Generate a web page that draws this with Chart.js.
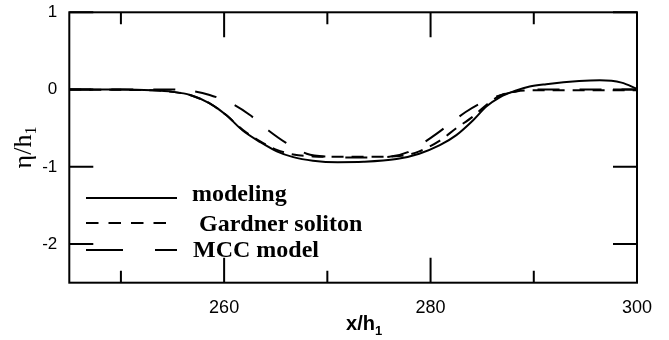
<!DOCTYPE html>
<html>
<head>
<meta charset="utf-8">
<script src="https://cdn.jsdelivr.net/npm/chart.js@4/dist/chart.umd.min.js"></script>
<style>
  html, body { margin: 0; padding: 0; background: #fff; }
  #wrap { width: 669px; height: 340px; }
</style>
</head>
<body>
<div id="wrap"><canvas id="c" width="669" height="340"></canvas></div>
<script>
// Interface displacement profiles, x/h1 vs eta/h1
const modelingX = [245, 250, 253, 255, 256.7, 258.6, 260.2, 261.8, 263.5, 265.1, 266.7, 268.6, 271, 273.5, 276.7, 278.9, 280.9, 282.5, 284.1, 285.4, 286.7, 288.3, 289.6, 291.2, 294.4, 296.4, 298.5, 300];
const modelingY = [0, 0, -0.01, -0.03, -0.07, -0.18, -0.33, -0.53, -0.68, -0.80, -0.875, -0.92, -0.94, -0.935, -0.90, -0.83, -0.72, -0.59, -0.40, -0.22, -0.10, -0.01, 0.04, 0.07, 0.11, 0.12, 0.09, 0.01];

const gardnerX = [245, 253, 255, 256.7, 258.6, 260.2, 261.8, 263.5, 265.1, 266.7, 268.6, 271, 274, 277, 278.9, 280.9, 282.5, 284.1, 285.4, 286.7, 288.3, 290, 300];
const gardnerY = [0, -0.01, -0.03, -0.07, -0.18, -0.33, -0.52, -0.67, -0.78, -0.84, -0.865, -0.87, -0.87, -0.86, -0.80, -0.66, -0.50, -0.35, -0.20, -0.08, -0.025, -0.01, -0.01];

const mccX = [245, 255, 257, 258.6, 260.7, 262.5, 264.3, 266, 268, 270, 273, 276, 277.8, 279.3, 280.6, 281.9, 283.4, 284.8, 286.4, 287.7, 289, 291, 300];
const mccY = [0, 0, -0.02, -0.07, -0.18, -0.33, -0.53, -0.69, -0.83, -0.87, -0.88, -0.87, -0.81, -0.69, -0.57, -0.44, -0.29, -0.18, -0.09, -0.04, -0.01, 0, 0];

const seriesNames = ['modeling', 'Gardner soliton', 'MCC model'];

// Axis ticks
const xTickValues = [250, 260, 270, 280, 290, 300];
const xTickLabels = [260, 280, 300];
const yTickValues = [-2, -1, 0, 1];

const toPoints = (xs, ys) => xs.map((x, i) => ({ x: x, y: ys[i] }));

// Frame with inward ticks on all four sides
const framePlugin = {
  id: 'frame',
  afterDatasetsDraw(chart) {
    const { ctx, chartArea: a, scales } = chart;
    ctx.save();
    ctx.strokeStyle = '#000';
    ctx.lineWidth = 2;
    ctx.strokeRect(a.left, a.top, a.right - a.left, a.bottom - a.top);
    ctx.beginPath();
    xTickValues.forEach(v => {
      const px = scales.x.getPixelForValue(v);
      const len = xTickLabels.includes(v) ? 25 : 12;
      ctx.moveTo(px, a.bottom); ctx.lineTo(px, a.bottom - len);
      ctx.moveTo(px, a.top); ctx.lineTo(px, a.top + len);
    });
    yTickValues.forEach(v => {
      const py = scales.y.getPixelForValue(v);
      ctx.moveTo(a.left, py); ctx.lineTo(a.left + 24, py);
      ctx.moveTo(a.right, py); ctx.lineTo(a.right - 24, py);
    });
    ctx.stroke();
    ctx.restore();
  }
};

// Axis titles with subscripts
const titlePlugin = {
  id: 'titles',
  afterDraw(chart) {
    const { ctx, chartArea: a } = chart;
    ctx.save();
    ctx.fillStyle = '#000';
    ctx.textBaseline = 'alphabetic';
    // x title
    ctx.font = 'bold 20px "Liberation Sans", Arial, sans-serif';
    const main = 'x/h';
    const wMain = ctx.measureText(main).width;
    ctx.font = 'bold 13px "Liberation Sans", Arial, sans-serif';
    const wSub = ctx.measureText('1').width;
    const cx = (a.left + a.right) / 2 + 11;
    let x0 = cx - (wMain + wSub) / 2;
    ctx.font = 'bold 20px "Liberation Sans", Arial, sans-serif';
    ctx.fillText(main, x0, 330);
    ctx.font = 'bold 13px "Liberation Sans", Arial, sans-serif';
    ctx.fillText('1', x0 + wMain, 335);
    // y title
    ctx.translate(31, (a.top + a.bottom) / 2);
    ctx.rotate(-Math.PI / 2);
    ctx.font = '26px "Liberation Serif", "Times New Roman", serif';
    const ym = '\u03b7/h';
    const yw = ctx.measureText(ym).width;
    ctx.font = '16px "Liberation Serif", "Times New Roman", serif';
    const ys = ctx.measureText('1').width;
    const y0 = -(yw + ys) / 2;
    ctx.font = '26px "Liberation Serif", "Times New Roman", serif';
    ctx.fillText(ym, y0, 0);
    ctx.font = '16px "Liberation Serif", "Times New Roman", serif';
    ctx.fillText('1', y0 + yw, 5);
    ctx.restore();
  }
};

// Legend drawn inside the plot area
const legendPlugin = {
  id: 'innerLegend',
  afterDraw(chart) {
    const { ctx } = chart;
    const rows = [
      { lineY: 198, dash: [], textX: 192, baseY: 201, lineEnd: 177 },
      { lineY: 223, dash: [12.5, 10], textX: 199, baseY: 231, lineEnd: 170 },
      { lineY: 250, dash: [37, 32], textX: 193, baseY: 257, lineEnd: 177 }
    ];
    ctx.save();
    ctx.strokeStyle = '#000';
    ctx.fillStyle = '#000';
    ctx.lineWidth = 2;
    ctx.font = 'bold 24px "Liberation Serif", "Times New Roman", serif';
    ctx.textBaseline = 'alphabetic';
    rows.forEach((r, i) => {
      ctx.setLineDash(r.dash);
      ctx.beginPath();
      ctx.moveTo(86, r.lineY);
      ctx.lineTo(r.lineEnd, r.lineY);
      ctx.stroke();
      ctx.fillText(chart.data.datasets[i].label, r.textX, r.baseY);
    });
    ctx.restore();
  }
};

new Chart(document.getElementById('c'), {
  type: 'line',
  data: {
    datasets: [
      { label: seriesNames[0], data: toPoints(modelingX, modelingY), borderColor: '#000', borderWidth: 2, pointRadius: 0, cubicInterpolationMode: 'monotone', fill: false },
      { label: seriesNames[1], data: toPoints(gardnerX, gardnerY), borderColor: '#000', borderWidth: 2, borderDash: [12, 8], pointRadius: 0, cubicInterpolationMode: 'monotone', fill: false },
      { label: seriesNames[2], data: toPoints(mccX, mccY), borderColor: '#000', borderWidth: 2, borderDash: [22, 20], pointRadius: 0, cubicInterpolationMode: 'monotone', fill: false }
    ]
  },
  options: {
    responsive: false,
    devicePixelRatio: 1,
    animation: false,
    layout: { padding: { top: 12.3, right: 32, left: 0, bottom: 0 } },
    plugins: { legend: { display: false }, tooltip: { enabled: false } },
    scales: {
      x: {
        type: 'linear',
        min: 245,
        max: 300,
        afterBuildTicks: s => { s.ticks = xTickValues.map(v => ({ value: v })); },
        afterFit: s => { s.height = 57.3; s.paddingLeft = 0; s.paddingRight = 0; },
        grid: { display: false, drawTicks: false },
        border: { display: false },
        ticks: {
          autoSkip: false,
          maxRotation: 0,
          padding: 15,
          color: '#000',
          font: { family: '"Liberation Sans", Arial, sans-serif', size: 18 },
          callback: v => xTickLabels.includes(v) ? String(v) : ''
        }
      },
      y: {
        type: 'linear',
        min: -2.5,
        max: 1,
        afterBuildTicks: s => { s.ticks = yTickValues.map(v => ({ value: v })); },
        afterFit: s => { s.width = 69.3; s.paddingTop = 0; s.paddingBottom = 0; },
        grid: { display: false, drawTicks: false },
        border: { display: false },
        ticks: {
          padding: 12,
          color: '#000',
          font: { family: '"Liberation Sans", Arial, sans-serif', size: 17 },
          callback: v => String(v)
        }
      }
    }
  },
  plugins: [framePlugin, titlePlugin, legendPlugin]
});
</script>
</body>
</html>
